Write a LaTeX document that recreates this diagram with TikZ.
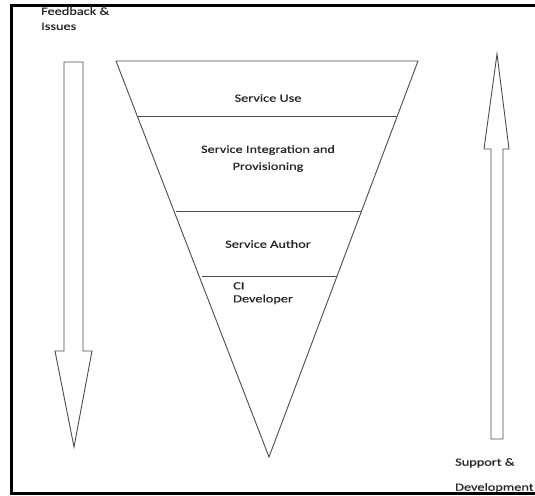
\documentclass[tikz,border=0pt]{standalone}
\usepackage{fontspec}
\setmainfont{Carlito}[FakeStretch=1.3,FakeBold=0.5]
\begin{document}
\begin{tikzpicture}[x=1pt,y=-1pt,
  shape line/.style={draw=black!70,line width=0.9pt,line join=miter},
  lbl/.style={font=\fontsize{11}{17}\selectfont,text=black!85,inner sep=0pt},
  divider/.style={draw=black!70,line width=0.9pt}]
\useasboundingbox (0,0) rectangle (535,495);
% left arrow (down)
\draw[shape line] (64,62) -- (83,62) -- (83,351) -- (92,351) -- (74,447) -- (55,351) -- (64,351) -- cycle;
% right arrow (up)
\draw[shape line] (491,439) -- (503,439) -- (503,149) -- (509,149) -- (497,54) -- (484,149) -- (491,149) -- cycle;
% funnel
\coordinate (tl) at (116,61);
\coordinate (tr) at (418,61);
\coordinate (tip) at (269,457);
\draw[shape line] (tl) -- (tr) -- (tip) -- cycle;
\draw[divider] (137.3,116) -- (397.3,116);
\draw[divider] (176.4,211) -- (361.5,211);
\draw[divider] (201.6,276) -- (337.1,276);
% labels
\node[lbl] (use) at (268,98) {Service Use};
\node[lbl,align=center] (integ) at (268,158.5) {Service Integration and\\Provisioning};
\node[lbl] (author) at (268,244) {Service Author};
\node[lbl,align=left,anchor=north west,font=\fontsize{11}{13}\selectfont] (ci) at (233,282) {CI\\Developer};
\node[lbl,align=left,anchor=north west,font=\fontsize{11}{15}\selectfont] (fb) at (41,7) {Feedback \&\\Issues};
\node[lbl,align=left,anchor=north west,font=\fontsize{11}{25}\selectfont] (sd) at (455,458) {Support \&\\Development};
% frame
\draw[black,line width=3pt] (11.5,5.5) -- (535,5.5);
\draw[black,line width=3pt] (11.5,4) -- (11.5,493.5) -- (535,493.5);
\end{tikzpicture}
\end{document}
